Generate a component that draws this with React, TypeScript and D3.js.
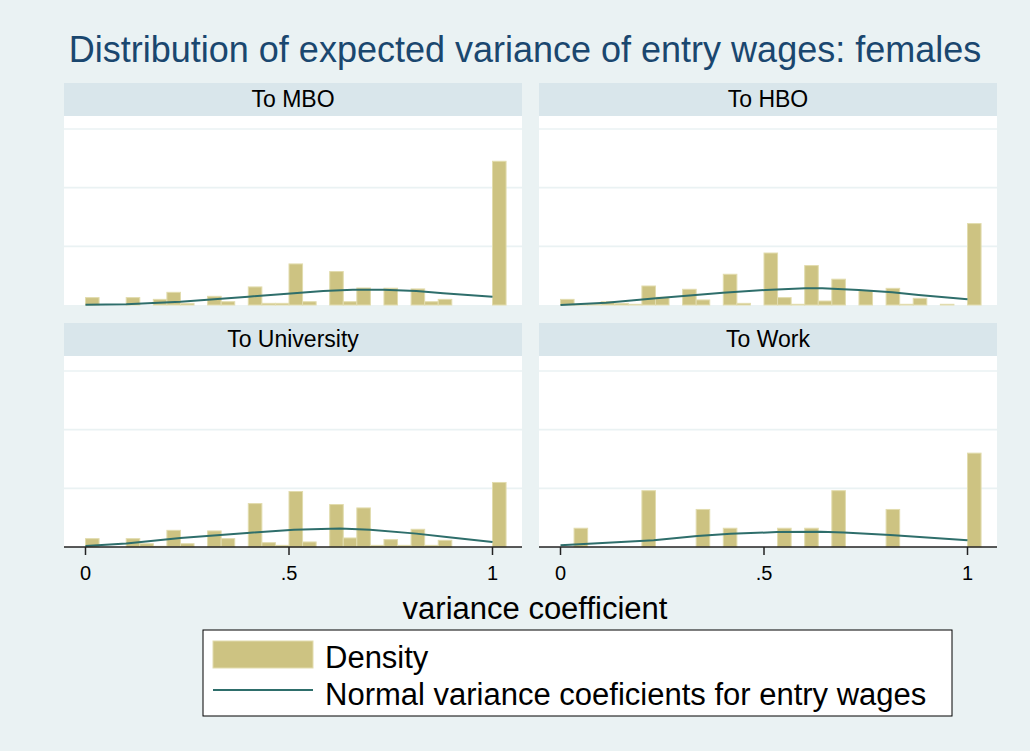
import React, { useEffect, useRef } from 'react';
import * as d3 from 'd3';

const TITLE = 'Distribution of expected variance of entry wages: females';
const PANEL_NAMES = ['To MBO', 'To HBO', 'To University', 'To Work'];
const X_TICKS = [0, 0.5, 1];
const X_TICK_LABELS = ['0', '.5', '1'];
const Y_GRID = [5, 10, 15];
const X_TITLE = 'variance coefficient';
const LEGEND_LABELS = ['Density', 'Normal variance coeficients for entry wages'];

// histogram bins of width 1/30 starting at 0 (31 bins)
const BIN_WIDTH = 1 / 30;
const binStarts = d3.range(31).map(k => k * BIN_WIDTH);

const mboDensity = [0.63, 0, 0, 0.63, 0, 0.48, 1.08, 0.14, 0, 0.74, 0.28, 0, 1.54, 0.14, 0.14, 3.5,
  0.28, 0, 2.85, 0.28, 1.45, 0, 1.43, 0, 1.37, 0.28, 0.48, 0, 0, 0, 12.25];
const hboDensity = [0.48, 0.06, 0.06, 0.28, 0.14, 0.06, 1.62, 0.66, 0, 1.34, 0.43, 0, 2.62, 0.14, 0, 4.43,
  0.63, 0.06, 3.36, 0.34, 2.2, 0, 1.23, 0, 1.42, 0.06, 0.57, 0, 0.06, 0, 6.94];
const uniDensity = [0.71, 0, 0, 0.71, 0.28, 0.06, 1.42, 0.28, 0, 1.37, 0.71, 0, 3.7, 0.37, 0.14, 4.73,
  0.43, 0, 3.62, 0.77, 3.33, 0.14, 0.63, 0.14, 1.51, 0.14, 0.57, 0, 0, 0, 5.5];
const workDensity = [0, 1.6, 0, 0, 0, 0, 4.8, 0, 0, 0, 3.2, 0, 1.6, 0, 0, 0,
  1.6, 0, 1.6, 0, 4.8, 0, 0, 0, 3.2, 0, 0, 0, 0, 0, 8.0];

// normal curves
const mboCurveX = [0, 0.1, 0.233, 0.4, 0.512, 0.584, 0.657, 0.731, 0.813, 0.879, 1.0];
const mboCurveY = [0.02, 0.06, 0.28, 0.71, 1.0, 1.2, 1.31, 1.31, 1.2, 1.0, 0.71];
const hboCurveX = [0, 0.112, 0.235, 0.399, 0.504, 0.602, 0.643, 0.733, 0.815, 0.88, 1.0];
const hboCurveY = [0.0, 0.2, 0.57, 1.05, 1.28, 1.43, 1.43, 1.28, 1.09, 0.86, 0.49];
const uniCurveX = [0, 0.1, 0.233, 0.397, 0.512, 0.625, 0.699, 0.813, 0.887, 1.0];
const uniCurveY = [0.09, 0.29, 0.77, 1.2, 1.48, 1.57, 1.48, 1.14, 0.85, 0.43];
const workCurveX = [0, 0.229, 0.336, 0.418, 0.532, 0.639, 0.696, 0.81, 1.0];
const workCurveY = [0.14, 0.57, 0.93, 1.13, 1.27, 1.3, 1.24, 1.02, 0.57];

const FONT = '"Liberation Sans", Arial, Helvetica, sans-serif';
const BG = '#eaf2f3';
const BAR_FILL = '#cdc382';
const BAR_STROKE = '#e2dcae';
const LINE_COLOR = '#2e6e6b';

const W = 1030, H = 751;

function App() {
  const ref = useRef<SVGSVGElement>(null);

  useEffect(() => {
    const svg = d3.select(ref.current);
    svg.selectAll('*').remove();

    svg.append('rect').attr('width', W).attr('height', H).attr('fill', BG);

    svg.append('text')
      .attr('x', 525).attr('y', 62)
      .attr('text-anchor', 'middle')
      .attr('font-family', FONT).attr('font-size', 36)
      .attr('fill', '#1a476f')
      .text(TITLE);

    const panels = [
      { name: PANEL_NAMES[0], left: 64, top: 83, base: 305, dens: mboDensity, cx: mboCurveX, cy: mboCurveY, axis: false },
      { name: PANEL_NAMES[1], left: 539, top: 83, base: 305, dens: hboDensity, cx: hboCurveX, cy: hboCurveY, axis: false },
      { name: PANEL_NAMES[2], left: 64, top: 323, base: 547, dens: uniDensity, cx: uniCurveX, cy: uniCurveY, axis: true },
      { name: PANEL_NAMES[3], left: 539, top: 323, base: 547, dens: workDensity, cx: workCurveX, cy: workCurveY, axis: true },
    ];
    const pw = 458, stripH = 33;

    panels.forEach(p => {
      const g = svg.append('g');
      const x = d3.scaleLinear().domain([0, 1]).range([p.left + 21.5, p.left + 21.5 + 407]);
      const y = d3.scaleLinear().domain([0, 15]).range([p.base, p.base - 176]);

      // strip
      g.append('rect')
        .attr('x', p.left).attr('y', p.top).attr('width', pw).attr('height', stripH)
        .attr('fill', '#d9e6eb');
      g.append('text')
        .attr('x', p.left + pw / 2).attr('y', p.top + 24)
        .attr('text-anchor', 'middle')
        .attr('font-family', FONT).attr('font-size', 23)
        .attr('fill', '#000')
        .text(p.name);

      // plot region
      g.append('rect')
        .attr('x', p.left).attr('y', p.top + stripH).attr('width', pw).attr('height', p.base - p.top - stripH)
        .attr('fill', '#fff');

      g.selectAll('.grid').data(Y_GRID).enter().append('line')
        .attr('x1', p.left).attr('x2', p.left + pw)
        .attr('y1', d => y(d)).attr('y2', d => y(d))
        .attr('stroke', BG).attr('stroke-width', 1.6);

      // bars
      const bins = binStarts.map((b, i) => ({ b, v: p.dens[i] })).filter(d => d.v > 0);
      g.selectAll('.bar').data(bins).enter().append('rect')
        .attr('x', d => x(d.b))
        .attr('width', d => x(d.b + BIN_WIDTH) - x(d.b))
        .attr('y', d => y(d.v))
        .attr('height', d => y(0) - y(d.v))
        .attr('fill', BAR_FILL)
        .attr('stroke', BAR_STROKE).attr('stroke-width', 1);

      // normal curve
      const line = d3.line<number>()
        .x(d => x(p.cx[d]))
        .y(d => y(p.cy[d]));
      g.append('path')
        .datum(d3.range(p.cx.length))
        .attr('fill', 'none')
        .attr('stroke', LINE_COLOR)
        .attr('stroke-width', 2)
        .attr('d', line);

      if (p.axis) {
        const ax = g.append('g').attr('transform', 'translate(0,' + p.base + ')');
        ax.append('line')
          .attr('x1', p.left).attr('x2', p.left + pw)
          .attr('stroke', '#222').attr('stroke-width', 1.5);
        ax.selectAll('.tick').data(X_TICKS).enter().append('line')
          .attr('x1', d => x(d)).attr('x2', d => x(d))
          .attr('y1', 0).attr('y2', 8)
          .attr('stroke', '#222').attr('stroke-width', 1.5);
        ax.selectAll('.lbl').data(X_TICKS).enter().append('text')
          .attr('x', d => x(d)).attr('y', 33)
          .attr('text-anchor', 'middle')
          .attr('font-family', FONT).attr('font-size', 20)
          .attr('fill', '#000')
          .text((d, i) => X_TICK_LABELS[i]);
      }
    });

    svg.append('text')
      .attr('x', 535).attr('y', 619)
      .attr('text-anchor', 'middle')
      .attr('font-family', FONT).attr('font-size', 31)
      .attr('fill', '#000')
      .text(X_TITLE);

    // legend
    const lg = svg.append('g');
    lg.append('rect')
      .attr('x', 203).attr('y', 630).attr('width', 749).attr('height', 86)
      .attr('fill', '#fff').attr('stroke', '#000').attr('stroke-width', 1);
    lg.append('rect')
      .attr('x', 213).attr('y', 641).attr('width', 100).attr('height', 27)
      .attr('fill', BAR_FILL).attr('stroke', BAR_STROKE).attr('stroke-width', 1);
    lg.append('line')
      .attr('x1', 213).attr('x2', 313).attr('y1', 690).attr('y2', 690)
      .attr('stroke', LINE_COLOR).attr('stroke-width', 2);
    lg.selectAll('.lt').data(LEGEND_LABELS).enter().append('text')
      .attr('x', 325).attr('y', (d, i) => 668 + i * 37)
      .attr('font-family', FONT).attr('font-size', 31)
      .attr('fill', '#000')
      .text(d => d);
  }, []);

  return (
    <svg ref={ref} width={W} height={H}
      style={{ position: 'absolute', left: 0, top: 0, display: 'block' }} />
  );
}

export default App;
